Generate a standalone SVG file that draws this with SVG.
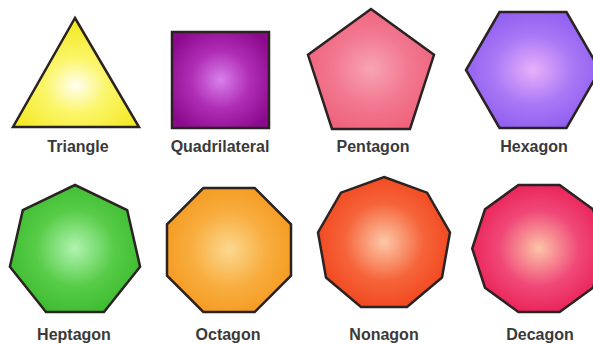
<svg xmlns="http://www.w3.org/2000/svg" width="593" height="345" viewBox="0 0 593 345">
<style>
.s{stroke:#2b2222;stroke-width:2.5;stroke-linejoin:miter}
.t{font-family:"Liberation Sans",Arial,sans-serif;font-weight:bold;font-size:16px;fill:#3a3a3a;text-anchor:middle}
</style>
<defs>
<radialGradient id="gY" cx="0.5" cy="0.62" r="0.55"><stop offset="0" stop-color="#fffef0"/><stop offset="0.45" stop-color="#fbf66a"/><stop offset="1" stop-color="#f4ea2a"/></radialGradient>
<radialGradient id="gQ" cx="0.5" cy="0.5" r="0.6"><stop offset="0" stop-color="#d880ea"/><stop offset="0.5" stop-color="#b02eb6"/><stop offset="1" stop-color="#8c0a8c"/></radialGradient>
<radialGradient id="gP" cx="0.5" cy="0.5" r="0.6"><stop offset="0" stop-color="#f8a4b4"/><stop offset="0.5" stop-color="#f27890"/><stop offset="1" stop-color="#ee5e78"/></radialGradient>
<radialGradient id="gH" cx="0.5" cy="0.5" r="0.6"><stop offset="0" stop-color="#e8b0fa"/><stop offset="0.5" stop-color="#a878f6"/><stop offset="1" stop-color="#8a58ee"/></radialGradient>
<radialGradient id="g7" cx="0.5" cy="0.5" r="0.6"><stop offset="0" stop-color="#b0f4b0"/><stop offset="0.5" stop-color="#58cc48"/><stop offset="1" stop-color="#36b82a"/></radialGradient>
<radialGradient id="g8" cx="0.5" cy="0.5" r="0.6"><stop offset="0" stop-color="#fcd890"/><stop offset="0.5" stop-color="#f8ae40"/><stop offset="1" stop-color="#f4961a"/></radialGradient>
<radialGradient id="g9" cx="0.5" cy="0.5" r="0.6"><stop offset="0" stop-color="#fcc8a8"/><stop offset="0.5" stop-color="#f6643a"/><stop offset="1" stop-color="#f03e16"/></radialGradient>
<radialGradient id="g10" cx="0.5" cy="0.5" r="0.6"><stop offset="0" stop-color="#fcc4a8"/><stop offset="0.5" stop-color="#f04878"/><stop offset="1" stop-color="#e8164e"/></radialGradient>
</defs>
<rect width="593" height="345" fill="#ffffff"/>
<g id="triangle"><polygon class="s" fill="url(#gY)" points="75,18 139,127 13,127"/><text class="t" x="78" y="152">Triangle</text></g>
<g id="quadrilateral"><rect class="s" fill="url(#gQ)" x="172" y="32" width="97" height="96"/><text class="t" x="220" y="152">Quadrilateral</text></g>
<g id="pentagon"><polygon class="s" fill="url(#gP)" points="371,9 434,54.8 410,129 332,129 308,54.8"/><text class="t" x="373" y="152">Pentagon</text></g>
<g id="hexagon"><polygon class="s" fill="url(#gH)" points="499.5,12 566.5,12 600,70 566.5,128 499.5,128 466,70"/><text class="t" x="534" y="152">Hexagon</text></g>
<g id="heptagon"><polygon class="s" fill="url(#g7)" points="75,185 127.2,210.1 140.1,266.7 104,312 46,312 9.9,266.7 22.8,210.1"/><text class="t" x="74" y="340">Heptagon</text></g>
<g id="octagon"><polygon class="s" fill="url(#g8)" points="203.3,188 254.7,188 291,224.3 291,275.7 254.7,312 203.3,312 167,275.7 167,224.3"/><text class="t" x="228" y="340">Octagon</text></g>
<g id="nonagon"><polygon class="s" fill="url(#g9)" points="384,177 427.1,192.7 450,232.4 442,277.5 407,307 361,307 326,277.5 318,232.4 340.9,192.7"/><text class="t" x="384" y="340">Nonagon</text></g>
<g id="decagon"><polygon class="s" fill="url(#g10)" points="518.4,185 559.6,185 593,209.3 605.8,248.5 593,287.7 559.6,312 518.4,312 485,287.7 472.2,248.5 485,209.3"/><text class="t" x="540" y="340">Decagon</text></g>
<g id="connectors"/>
</svg>
